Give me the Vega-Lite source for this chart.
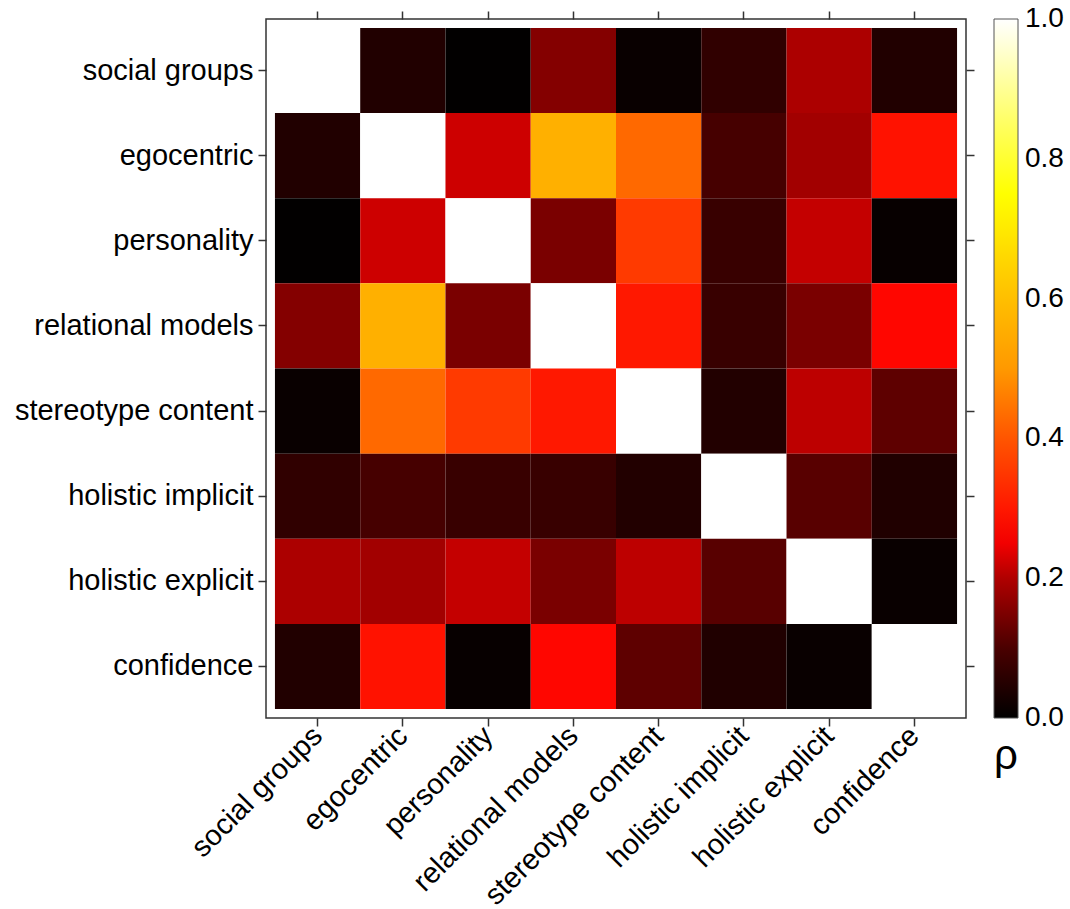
{
  "$schema": "https://vega.github.io/schema/vega-lite/v6.json",
  "autosize": {"type": "none"},
  "padding": {"left": 266, "top": 19, "right": 104, "bottom": 191},
  "width": 700,
  "height": 699,
  "background": "white",
  "config": {
    "font": "Liberation Sans",
    "view": {"stroke": "#333333", "strokeWidth": 1.5},
    "axis": {"domain": false, "grid": false, "tickColor": "#333333", "tickWidth": 1.5, "tickSize": 8, "labelColor": "#000000", "labelFont": "Liberation Sans", "labelFontSize": 29, "labelLimit": 500, "title": null},
    "legend": {"labelFont": "Liberation Sans", "titleFont": "Liberation Sans"}
  },
  "data": {"values": [
    {"r": "social groups", "c": "social groups", "v": 1},
    {"r": "social groups", "c": "egocentric", "v": 0.045},
    {"r": "social groups", "c": "personality", "v": 0.003},
    {"r": "social groups", "c": "relational models", "v": 0.157},
    {"r": "social groups", "c": "stereotype content", "v": 0.012},
    {"r": "social groups", "c": "holistic implicit", "v": 0.065},
    {"r": "social groups", "c": "holistic explicit", "v": 0.196},
    {"r": "social groups", "c": "confidence", "v": 0.045},
    {"r": "egocentric", "c": "social groups", "v": 0.045},
    {"r": "egocentric", "c": "egocentric", "v": 1},
    {"r": "egocentric", "c": "personality", "v": 0.222},
    {"r": "egocentric", "c": "relational models", "v": 0.56},
    {"r": "egocentric", "c": "stereotype content", "v": 0.43},
    {"r": "egocentric", "c": "holistic implicit", "v": 0.095},
    {"r": "egocentric", "c": "holistic explicit", "v": 0.186},
    {"r": "egocentric", "c": "confidence", "v": 0.29},
    {"r": "personality", "c": "social groups", "v": 0.003},
    {"r": "personality", "c": "egocentric", "v": 0.222},
    {"r": "personality", "c": "personality", "v": 1},
    {"r": "personality", "c": "relational models", "v": 0.147},
    {"r": "personality", "c": "stereotype content", "v": 0.355},
    {"r": "personality", "c": "holistic implicit", "v": 0.076},
    {"r": "personality", "c": "holistic explicit", "v": 0.215},
    {"r": "personality", "c": "confidence", "v": 0.01},
    {"r": "relational models", "c": "social groups", "v": 0.157},
    {"r": "relational models", "c": "egocentric", "v": 0.56},
    {"r": "relational models", "c": "personality", "v": 0.147},
    {"r": "relational models", "c": "relational models", "v": 1},
    {"r": "relational models", "c": "stereotype content", "v": 0.3},
    {"r": "relational models", "c": "holistic implicit", "v": 0.076},
    {"r": "relational models", "c": "holistic explicit", "v": 0.147},
    {"r": "relational models", "c": "confidence", "v": 0.27},
    {"r": "stereotype content", "c": "social groups", "v": 0.012},
    {"r": "stereotype content", "c": "egocentric", "v": 0.43},
    {"r": "stereotype content", "c": "personality", "v": 0.355},
    {"r": "stereotype content", "c": "relational models", "v": 0.3},
    {"r": "stereotype content", "c": "stereotype content", "v": 1},
    {"r": "stereotype content", "c": "holistic implicit", "v": 0.046},
    {"r": "stereotype content", "c": "holistic explicit", "v": 0.21},
    {"r": "stereotype content", "c": "confidence", "v": 0.12},
    {"r": "holistic implicit", "c": "social groups", "v": 0.065},
    {"r": "holistic implicit", "c": "egocentric", "v": 0.095},
    {"r": "holistic implicit", "c": "personality", "v": 0.076},
    {"r": "holistic implicit", "c": "relational models", "v": 0.076},
    {"r": "holistic implicit", "c": "stereotype content", "v": 0.046},
    {"r": "holistic implicit", "c": "holistic implicit", "v": 1},
    {"r": "holistic implicit", "c": "holistic explicit", "v": 0.114},
    {"r": "holistic implicit", "c": "confidence", "v": 0.043},
    {"r": "holistic explicit", "c": "social groups", "v": 0.196},
    {"r": "holistic explicit", "c": "egocentric", "v": 0.186},
    {"r": "holistic explicit", "c": "personality", "v": 0.215},
    {"r": "holistic explicit", "c": "relational models", "v": 0.147},
    {"r": "holistic explicit", "c": "stereotype content", "v": 0.21},
    {"r": "holistic explicit", "c": "holistic implicit", "v": 0.114},
    {"r": "holistic explicit", "c": "holistic explicit", "v": 1},
    {"r": "holistic explicit", "c": "confidence", "v": 0.012},
    {"r": "confidence", "c": "social groups", "v": 0.045},
    {"r": "confidence", "c": "egocentric", "v": 0.29},
    {"r": "confidence", "c": "personality", "v": 0.01},
    {"r": "confidence", "c": "relational models", "v": 0.27},
    {"r": "confidence", "c": "stereotype content", "v": 0.12},
    {"r": "confidence", "c": "holistic implicit", "v": 0.043},
    {"r": "confidence", "c": "holistic explicit", "v": 0.012},
    {"r": "confidence", "c": "confidence", "v": 1}
  ]},
  "layer": [
    {
      "mark": {"type": "rect"},
      "encoding": {
        "x": {"field": "c", "type": "nominal", "sort": null,
              "scale": {"domain": ["social groups", "egocentric", "personality", "relational models", "stereotype content", "holistic implicit", "holistic explicit", "confidence"], "paddingInner": 0, "paddingOuter": 0.105},
              "axis": {"orient": "bottom", "labelAngle": -45, "labelAlign": "right", "labelBaseline": "middle", "labelPadding": 5}},
        "y": {"field": "r", "type": "nominal", "sort": null,
              "scale": {"domain": ["social groups", "egocentric", "personality", "relational models", "stereotype content", "holistic implicit", "holistic explicit", "confidence"], "paddingInner": 0, "paddingOuter": 0.105},
              "axis": {"orient": "left", "labelPadding": 5}},
        "color": {"field": "v", "type": "quantitative",
                  "scale": {"type": "linear", "domain": [0, 0.1, 0.2, 0.26, 0.4, 0.5, 0.6, 0.75, 0.88, 1], "range": ["#000000", "#4a0000", "#b00000", "#ff0000", "#ff5500", "#ff9900", "#ffbf00", "#ffff00", "#ffff80", "#ffffff"], "interpolate": "rgb"},
                  "legend": {"title": "ρ", "orient": "right", "offset": 19, "direction": "vertical", "gradientLength": 699, "gradientThickness": 24, "gradientStrokeColor": "#555555", "gradientStrokeWidth": 1, "values": [0, 0.2, 0.4, 0.6, 0.8, 1], "format": ".1f", "labelFontSize": 28, "labelColor": "#000000", "labelOffset": 7, "labelOverlap": false, "titleOrient": "bottom", "titleFontSize": 42, "titleFontWeight": "normal", "titleColor": "#000000", "titlePadding": 4,
                             "encode": {"labels": {"update": {"baseline": {"value": "middle"}}}}}}
      }
    },
    {
      "mark": {"type": "rect", "opacity": 0},
      "encoding": {
        "x": {"field": "c", "type": "nominal", "sort": null, "axis": {"orient": "top", "labels": false}},
        "y": {"field": "r", "type": "nominal", "sort": null, "axis": {"orient": "right", "labels": false}}
      }
    }
  ],
  "resolve": {"axis": {"x": "independent", "y": "independent"}}
}
